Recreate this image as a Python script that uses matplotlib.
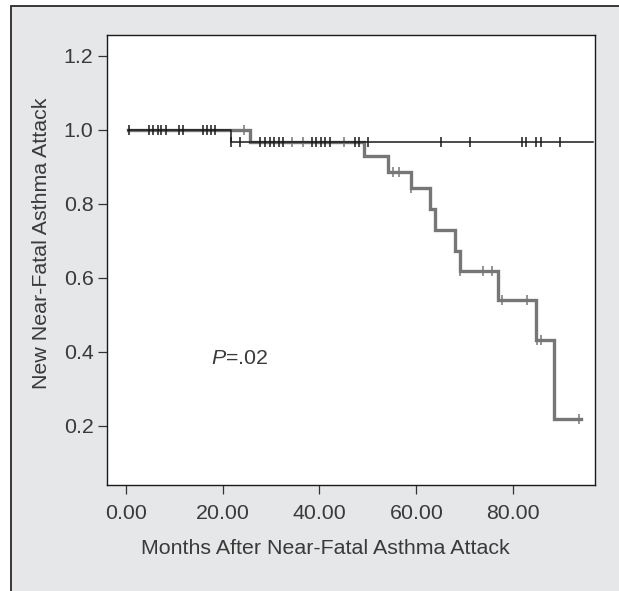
import numpy as np
import matplotlib
matplotlib.use("Agg")
import matplotlib.pyplot as plt
from matplotlib.patches import Rectangle

plt.rcParams['font.family'] = ['Liberation Sans', 'DejaVu Sans']
plt.rcParams['mathtext.fontset'] = 'custom'
plt.rcParams['mathtext.rm'] = 'Liberation Sans'
plt.rcParams['mathtext.it'] = 'Liberation Sans:italic'

# ---- data ----
# Group with thin black curve
black_step_t = [0.5, 21.8, 96.5]
black_step_s = [1.0, 0.968, 0.968]
black_censor_t = [0.8, 4.9, 5.7, 6.6, 7.4, 8.3, 11.0, 11.8, 15.9, 16.7, 17.6, 18.4,
                  21.8, 23.5, 27.7, 28.7, 29.7, 30.6, 31.6, 32.4, 38.5, 39.3, 40.3,
                  41.1, 42.1, 47.3, 48.1, 50.0, 65.1, 71.0, 81.8, 82.7, 84.7, 85.6, 89.6]

# Group with thick gray curve
gray_step_t = [0.5, 25.6, 49.2, 54.1, 58.9, 62.8, 63.9, 68.0, 69.0, 76.9, 84.6, 88.4, 93.9]
gray_step_s = [1.0, 0.968, 0.929, 0.885, 0.842, 0.786, 0.729, 0.673, 0.619, 0.540, 0.433, 0.218, 0.218]
gray_censor_t = [24.5, 34.4, 36.5, 45.1, 55.1, 56.3, 58.9, 69.0, 73.7, 75.6, 77.6, 82.8,
                 84.9, 85.6, 93.6]

x_ticks = [0, 20, 40, 60, 80]
x_ticklabels = ["0.00", "20.00", "40.00", "60.00", "80.00"]
y_ticks = [0.2, 0.4, 0.6, 0.8, 1.0, 1.2]
y_ticklabels = ["0.2", "0.4", "0.6", "0.8", "1.0", "1.2"]

p_label = r"$\mathit{P}$=.02"


def level_at(step_t, step_s, t):
    idx = np.searchsorted(np.asarray(step_t), np.asarray(t), side='right') - 1
    idx = np.clip(idx, 0, len(step_s) - 1)
    return np.asarray(step_s)[idx]


W, H = 619, 591
fig = plt.figure(figsize=(W / 100, H / 100), dpi=100, facecolor='white')

# framed light-gray panel
panel = Rectangle((11 / W, -0.1), 1.2, (H - 6) / H + 0.1, transform=fig.transFigure,
                  facecolor='#e6e7e8', edgecolor='#2a2a2a', linewidth=1.3, zorder=-10)
fig.patches.append(panel)

ax = fig.add_axes([106.7 / W, (H - 485) / H, (595.3 - 106.7) / W, (485 - 35) / H])
ax.set_facecolor('white')

gray = '#767676'
ax.plot(gray_step_t, gray_step_s, drawstyle='steps-post', color=gray, lw=2.4,
        solid_joinstyle='miter', zorder=2)
ax.plot(gray_censor_t, level_at(gray_step_t, gray_step_s, gray_censor_t), ls='none',
        marker='|', ms=6.5, mew=1.1, color=gray, zorder=2.5)

ax.plot(black_step_t, black_step_s, drawstyle='steps-post', color='#1a1a1a', lw=1.1, zorder=3)
ax.plot(black_censor_t, level_at(black_step_t, black_step_s, black_censor_t), ls='none',
        marker='|', ms=6.5, mew=1.1, color='#1a1a1a', zorder=3.5)

ax.set_xlim(-3.9, 96.9)
ax.set_ylim(0.04, 1.256)

ax.set_xticks(x_ticks)
ax.set_xticklabels(x_ticklabels)
ax.set_yticks(y_ticks)
ax.set_yticklabels(y_ticklabels)

fs = 15.4
txt_color = '#3a3a3a'
ax.tick_params(axis='both', direction='out', length=6.5, width=0.9, color='#333333',
               labelsize=fs, labelcolor=txt_color)
ax.tick_params(axis='x', pad=7.5)
ax.tick_params(axis='y', pad=3)
for sp in ax.spines.values():
    sp.set_linewidth(1.0)
    sp.set_color('#1a1a1a')

fig.text(325 / W, 1 - 548 / H, "Months After Near-Fatal Asthma Attack",
         ha='center', va='center', fontsize=fs, color=txt_color)
fig.text(41.5 / W, 1 - 243 / H, "New Near-Fatal Asthma Attack", rotation=90,
         ha='center', va='center', fontsize=fs, color=txt_color)

ax.text(17.6, 0.383, p_label, fontsize=fs, color=txt_color, ha='left', va='center')

fig.savefig("out.png", dpi=100, facecolor='white')
